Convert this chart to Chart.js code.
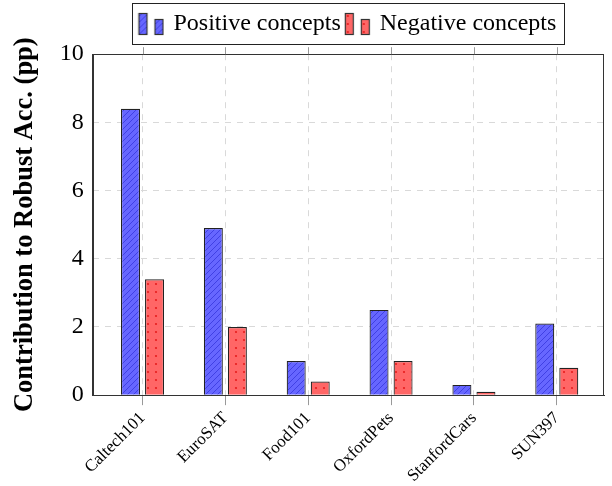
<!DOCTYPE html>
<html>
<head>
<meta charset="utf-8">
<script src="https://cdn.jsdelivr.net/npm/chart.js@4.4.0/dist/chart.umd.min.js"></script>
<style>
  html, body { margin: 0; padding: 0; background: #fff; }
</style>
</head>
<body>
<canvas id="grafico" width="612" height="486"></canvas>
<script>
// datos
const categorias = ['Caltech101', 'EuroSAT', 'Food101', 'OxfordPets', 'StanfordCars', 'SUN397'];
const positivos = [8.4, 4.9, 1.0, 2.5, 0.3, 2.1];
const negativos = [3.4, 2.0, 0.4, 1.0, 0.1, 0.8];
const ticksY = [0, 2, 4, 6, 8, 10];
const etiquetas = ['Positive concepts', 'Negative concepts'];

const serif = '"Liberation Serif", "DejaVu Serif", serif';
const ctx = document.getElementById('grafico').getContext('2d');

function patronRayas(fondo, linea) {
    const c = document.createElement('canvas');
    c.width = 6; c.height = 6;
    const g = c.getContext('2d');
    g.fillStyle = fondo;
    g.fillRect(0, 0, 6, 6);
    g.strokeStyle = linea;
    g.lineWidth = 0.9;
    g.beginPath();
    g.moveTo(0, 6); g.lineTo(6, 0);
    g.moveTo(-1, 1); g.lineTo(1, -1);
    g.moveTo(5, 7); g.lineTo(7, 5);
    g.stroke();
    return ctx.createPattern(c, 'repeat');
}

function patronPuntos(fondo, punto) {
    const c = document.createElement('canvas');
    c.width = 8; c.height = 8;
    const g = c.getContext('2d');
    g.fillStyle = fondo;
    g.fillRect(0, 0, 8, 8);
    g.fillStyle = punto;
    g.beginPath();
    g.arc(4, 4, 1.1, 0, Math.PI * 2);
    g.fill();
    return ctx.createPattern(c, 'repeat');
}

// icono de leyenda: dos barritas como en pgfplots
function icono(relleno) {
    const c = document.createElement('canvas');
    c.width = 27; c.height = 24;
    const g = c.getContext('2d');
    g.fillStyle = relleno;
    g.strokeStyle = '#333';
    g.lineWidth = 1.2;
    g.fillRect(1.5, 1.5, 8, 21);
    g.strokeRect(1.5, 1.5, 8, 21);
    g.fillRect(17.5, 7.5, 8, 15);
    g.strokeRect(17.5, 7.5, 8, 15);
    return c;
}

const rellenoAzul = patronRayas('rgb(102,102,255)', 'rgb(60,60,225)');
const rellenoRojo = patronPuntos('rgb(255,102,102)', 'rgb(230,30,30)');
const iconos = [icono(rellenoAzul), icono(rellenoRojo)];

const marco = {
    id: 'marco',
    afterDraw(chart) {
        const a = chart.chartArea;
        const c = chart.ctx;
        c.save();
        c.strokeStyle = '#333';
        c.lineWidth = 1;
        c.strokeRect(Math.round(a.left) + 0.5, Math.round(a.top) + 0.5,
            Math.round(a.right - a.left) - 1, Math.round(a.bottom - a.top));
        // marcas superiores
        c.strokeStyle = '#999';
        categorias.forEach((_, i) => {
            const x = Math.round(chart.scales.x.getPixelForValue(i)) + 0.5;
            c.beginPath();
            c.moveTo(x, a.top);
            c.lineTo(x, a.top - 7);
            c.stroke();
        });
        // caja de la leyenda
        const cajas = chart.legend.legendHitBoxes;
        if (cajas && cajas.length) {
            const izq = cajas[0].left - 8;
            const der = cajas[cajas.length - 1].left + cajas[cajas.length - 1].width + 8;
            const arr = cajas[0].top - 9;
            const aba = cajas[0].top + cajas[0].height + 8;
            c.strokeStyle = '#222';
            c.strokeRect(Math.round(izq) + 0.5, Math.round(arr) + 0.5, Math.round(der - izq), Math.round(aba - arr));
        }
        c.restore();
    }
};

new Chart(ctx, {
    type: 'bar',
    data: {
        datasets: [
            {
                label: etiquetas[0],
                data: positivos.map((v, i) => ({ x: i, y: v })),
                backgroundColor: rellenoAzul,
                borderColor: '#222',
                borderWidth: 1.2,
                categoryPercentage: 0.58,
                barPercentage: 0.79
            },
            {
                label: etiquetas[1],
                data: negativos.map((v, i) => ({ x: i, y: v })),
                backgroundColor: rellenoRojo,
                borderColor: '#222',
                borderWidth: 1.2,
                categoryPercentage: 0.58,
                barPercentage: 0.79
            }
        ]
    },
    options: {
        responsive: false,
        animation: false,
        layout: { padding: { top: 6, right: 8, left: 9, bottom: -3 } },
        plugins: {
            tooltip: { enabled: false },
            // separador vacio entre leyenda y grafico
            title: {
                display: true,
                text: '',
                weight: 500,
                font: { size: 1 },
                padding: { top: 0, bottom: 7 }
            },
            legend: {
                position: 'top',
                fullSize: false,
                labels: {
                    usePointStyle: true,
                    pointStyleWidth: 21,
                    padding: 6,
                    color: '#000',
                    font: { family: serif, size: 24 },
                    generateLabels: (chart) => etiquetas.map((t, i) => ({
                        text: t,
                        pointStyle: iconos[i],
                        fillStyle: 'transparent',
                        strokeStyle: 'transparent',
                        lineWidth: 0,
                        datasetIndex: i
                    }))
                }
            }
        },
        scales: {
            x: {
                type: 'linear',
                offset: false,
                min: -0.6,
                max: 5.57,
                afterBuildTicks: (scale) => {
                    scale.ticks = categorias.map((_, i) => ({ value: i }));
                },
                ticks: {
                    autoSkip: false,
                    minRotation: 45,
                    maxRotation: 45,
                    padding: 3,
                    color: '#000',
                    font: { family: serif, size: 17 },
                    callback: (v) => categorias[v]
                },
                grid: {
                    offset: false,
                    color: '#d9d9d9',
                    tickColor: '#999',
                    tickLength: 10
                },
                border: { color: '#333', dash: [6, 6] }
            },
            y: {
                min: 0,
                max: 10,
                afterBuildTicks: (scale) => {
                    scale.ticks = ticksY.map(v => ({ value: v }));
                },
                ticks: {
                    padding: 9,
                    color: '#000',
                    font: { family: serif, size: 24 }
                },
                grid: {
                    color: '#d9d9d9',
                    drawTicks: false
                },
                border: { color: '#333', dash: [6, 6] },
                title: {
                    display: true,
                    text: 'Contribution to Robust Acc. (pp)',
                    color: '#000',
                    font: { family: serif, size: 26.5, weight: 'bold' },
                    padding: { top: 0, bottom: 10 }
                }
            }
        }
    },
    plugins: [marco]
});
</script>
</body>
</html>
